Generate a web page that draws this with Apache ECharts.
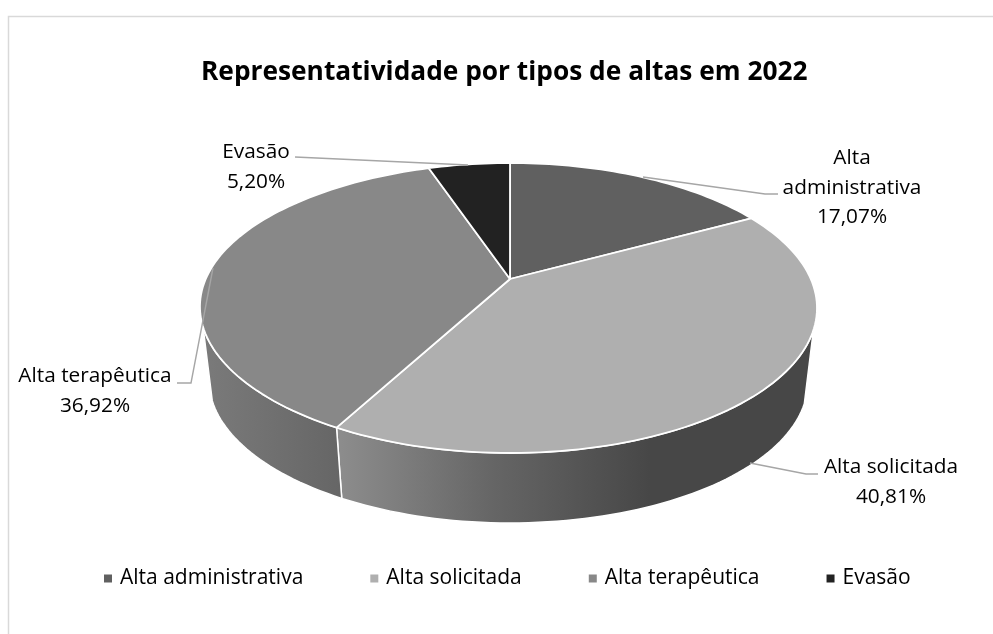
<!DOCTYPE html>
<html><head><meta charset="utf-8">
<style>html,body{margin:0;padding:0;background:#fff}#c{width:993px;height:634px}</style>
<script src="https://cdn.jsdelivr.net/npm/echarts@6/dist/echarts.min.js"></script>
</head><body><div id="c"></div>
<script>
const titleText = 'Representatividade por tipos de altas em 2022';
const categories = ['Alta administrativa','Alta solicitada','Alta terapêutica','Evasão'];
const shares = [17.07,40.81,36.92,5.20];
const colors = ['#606060','#afafaf','#888888','#222222'];
const labelLines = [['Alta','administrativa'],['Alta solicitada'],['Alta terapêutica'],['Evasão']];

// perspective view of the pie
const FONT = '"Open Sans"';
const view = {cx:510, cy:279, a:139.2, b:300.8, k:0.2, sx:0.97, sy:0.97, dy:75.2, bulge:3.5, bulgeFrom:205, bulgeTo:345};
const sideFill = [
  null,
  {x1:341,x2:650,stops:[[0,'#8c8c8c'],[0.5,'#656565'],[1,'#474747']]},
  {x1:205,x2:340,stops:[[0,'#7a7a7a'],[1,'#666666']]},
  null
];
const sideRange = [null,[110,null],[null,251.2],null];
const labelLayout = [
  {x:852,y:188,line:[[778,194],[765,194],[643,177]]},
  {x:891,y:482,line:[[818,474],[806,474],[750,463]]},
  {x:95, y:391,line:[[177,383],[191,383],[213,268]]},
  {x:256,y:167,line:[[295,157],[468,165]]}
];

function project(deg, bottom){
  const t = deg*Math.PI/180, x = Math.sin(t), y = -Math.cos(t), d = 1-view.k*y;
  let X = view.b*x/d; const Y = view.a*y/d;
  if(deg>view.bulgeFrom && deg<view.bulgeTo){
    X -= view.bulge*Math.pow(Math.sin(Math.PI*(deg-view.bulgeFrom)/(view.bulgeTo-view.bulgeFrom)),2);
  }
  return bottom ? [view.cx+X*view.sx, view.cy+Y*view.sy+view.dy] : [view.cx+X, view.cy+Y];
}
function arc(a0,a1,bottom){
  const n = Math.max(2,Math.ceil(Math.abs(a1-a0)/1.5)), p=[];
  for(let i=0;i<=n;i++) p.push(project(a0+(a1-a0)*i/n,bottom));
  return p;
}
const fmt = v => v.toFixed(2).replace('.',',')+'%';
const starts = shares.map((_,i)=>shares.slice(0,i).reduce((s,v)=>s+v,0));

function makeRender(i){
  return function(params,api){
    const v = api.value(0), s = api.value(1);
    const a0 = s*3.6, a1 = (s+v)*3.6, kids=[];
    if(sideRange[i]){
      const from = sideRange[i][0]===null?a0:sideRange[i][0];
      const to = sideRange[i][1]===null?a1:sideRange[i][1];
      const f = sideFill[i];
      kids.push({type:'polygon',shape:{points:arc(from,to,false).concat(arc(to,from,true))},
        style:{fill:new echarts.graphic.LinearGradient(f.x1,0,f.x2,0,f.stops.map(c=>({offset:c[0],color:c[1]})),true),
               stroke:'#ffffff',lineWidth:1.5,lineJoin:'round'}});
    }
    kids.push({type:'polygon',z2:5,shape:{points:[[view.cx,view.cy]].concat(arc(a0,a1,false))},
      style:{fill:colors[i],stroke:'#ffffff',lineWidth:1.8,lineJoin:'round'}});
    const L = labelLayout[i];
    kids.push({type:'polyline',z2:20,shape:{points:L.line},style:{fill:null,stroke:'#a6a6a6',lineWidth:1.4}});
    kids.push({type:'text',z2:21,style:{text:labelLines[i].concat([fmt(v)]).join('\n'),x:L.x,y:L.y,
      align:'center',verticalAlign:'middle',fill:'#000',font:'20.8px '+FONT,lineHeight:29.5}});
    return {type:'group',children:kids};
  };
}

const chart = echarts.init(document.getElementById('c'),null,{renderer:'canvas'});
chart.setOption({
  animation:false,
  backgroundColor:'#ffffff',
  title:{text:titleText,left:196,top:55,textStyle:{fontFamily:FONT,fontWeight:'bold',fontSize:26.3,color:'#000'}},
  legend:{left:104,top:568,icon:'rect',itemWidth:8,itemHeight:8,itemGap:67,padding:0,
    data:categories,selectedMode:false,textStyle:{fontFamily:FONT,fontSize:21,color:'#000',padding:[0,0,0,3]}},
  graphic:[{type:'rect',silent:true,z:-1,shape:{x:8.5,y:16.5,width:1100,height:800},style:{fill:'none',stroke:'#d9d9d9',lineWidth:1.5}}],
  series:categories.map((n,i)=>({type:'custom',name:n,coordinateSystem:'none',silent:true,
    itemStyle:{color:colors[i]},data:[[shares[i],starts[i]]],renderItem:makeRender(i)}))
});
</script></body></html>
